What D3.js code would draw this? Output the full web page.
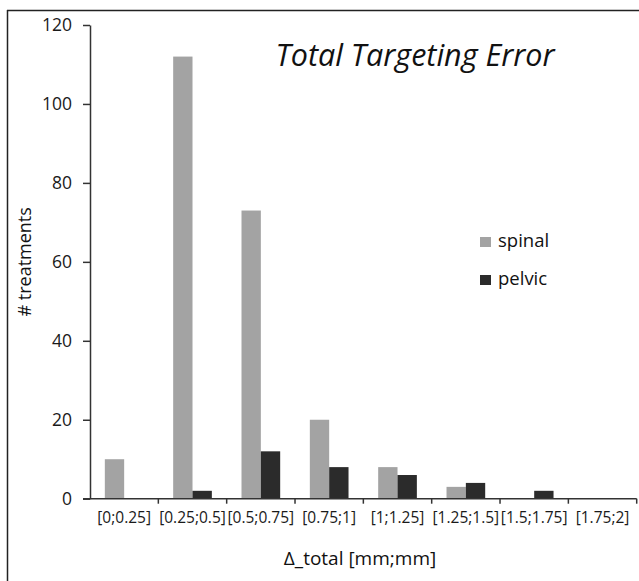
<!DOCTYPE html>
<html>
<head>
<meta charset="utf-8">
<script src="https://cdn.jsdelivr.net/npm/d3@7"></script>
<style>
  html, body { margin: 0; padding: 0; background: #fff; }
  svg { display: block; font-family: "Open Sans", Lato, sans-serif; }
</style>
</head>
<body>
<svg id="chart" width="639" height="581"></svg>
<script>
// Histogram bins of the total targeting error
const categories = ["[0;0.25]", "[0.25;0.5]", "[0.5;0.75]", "[0.75;1]", "[1;1.25]", "[1.25;1.5]", "[1.5;1.75]", "[1.75;2]"];
const seriesNames = ["spinal", "pelvic"];
const spinal = [10, 112, 73, 20, 8, 3, 0, 0];
const pelvic = [0, 2, 12, 8, 6, 4, 2, 0];
const yTicks = [0, 20, 40, 60, 80, 100, 120];
const colors = { spinal: "#a3a3a3", pelvic: "#2b2b2b" };

const svg = d3.select("#chart");
const plotLeft = 90, plotRight = 636.7, plotTop = 25, plotBottom = 498.7;

// frame lines (top and left)
svg.append("line").attr("x1", 7).attr("x2", 639).attr("y1", 10.5).attr("y2", 10.5)
  .attr("stroke", "#222").attr("stroke-width", 1.5);
svg.append("line").attr("x1", 7.5).attr("x2", 7.5).attr("y1", 10).attr("y2", 581)
  .attr("stroke", "#222").attr("stroke-width", 1.5);

const x0 = d3.scaleBand().domain(categories).range([plotLeft, plotRight]).padding(0);
const bw = x0.bandwidth();
const x1 = d3.scaleBand().domain(seriesNames).range([bw * 0.217, bw * 0.783]).padding(0);
const y = d3.scaleLinear().domain([0, 120]).range([plotBottom, plotTop]);

const rows = categories.map((c, i) => ({ cat: c, spinal: spinal[i], pelvic: pelvic[i] }));

// bars
const groups = svg.append("g").selectAll("g").data(rows).join("g")
  .attr("transform", d => `translate(${x0(d.cat)},0)`);
groups.selectAll("rect")
  .data(d => seriesNames.map(s => ({ s, v: d[s] })))
  .join("rect")
  .attr("x", d => x1(d.s))
  .attr("width", x1.bandwidth())
  .attr("y", d => y(d.v))
  .attr("height", d => plotBottom - y(d.v))
  .attr("fill", d => colors[d.s]);

// y axis
const yAxis = svg.append("g").attr("transform", `translate(${plotLeft},0)`)
  .call(d3.axisLeft(y).tickValues(yTicks).tickSize(7).tickPadding(11).tickSizeOuter(0));
yAxis.select(".domain").attr("stroke", "#333").attr("stroke-width", 1.5);
yAxis.selectAll(".tick line").attr("stroke", "#333").attr("stroke-width", 1.5);
yAxis.selectAll(".tick text").attr("font-size", 17.5).attr("fill", "#1a1a1a")
  .attr("font-family", "'Open Sans', sans-serif");

// x axis with ticks at bin boundaries
const xAxisG = svg.append("g").attr("transform", `translate(0,${plotBottom})`);
xAxisG.append("line").attr("x1", plotLeft - 7).attr("x2", plotRight).attr("y1", 0).attr("y2", 0)
  .attr("stroke", "#333").attr("stroke-width", 1.5);
const boundaries = categories.map(c => x0(c) + bw);
xAxisG.selectAll("line.tk").data(boundaries).join("line").attr("class", "tk")
  .attr("x1", d => d).attr("x2", d => d).attr("y1", 0).attr("y2", 5)
  .attr("stroke", "#333").attr("stroke-width", 1.5);
xAxisG.selectAll("text").data(categories).join("text")
  .attr("x", d => x0(d) + bw / 2)
  .attr("y", 24)
  .attr("text-anchor", "middle")
  .attr("font-size", 15.5)
  .attr("fill", "#1a1a1a")
  .text(d => d);

// title
svg.append("text").attr("x", 415).attr("y", 66).attr("text-anchor", "middle")
  .attr("font-size", 30.5).attr("font-style", "italic").attr("fill", "#111")
  .text("Total Targeting Error");

// axis titles
svg.append("text").attr("transform", `translate(31,${(plotTop + plotBottom) / 2}) rotate(-90)`)
  .attr("text-anchor", "middle").attr("font-size", 18).attr("fill", "#111")
  .text("# treatments");
svg.append("text").attr("x", 360).attr("y", 565).attr("text-anchor", "middle")
  .attr("font-size", 19).attr("fill", "#111")
  .text("\u0394_total [mm;mm]");

// legend
const legend = svg.append("g").selectAll("g").data(seriesNames).join("g")
  .attr("transform", (d, i) => `translate(480,${237 + i * 38})`);
legend.append("rect").attr("width", 11).attr("height", 10).attr("fill", d => colors[d]);
legend.append("text").attr("x", 18).attr("y", 10).attr("font-size", 18.5).attr("fill", "#111")
  .text(d => d);
</script>
</body>
</html>
